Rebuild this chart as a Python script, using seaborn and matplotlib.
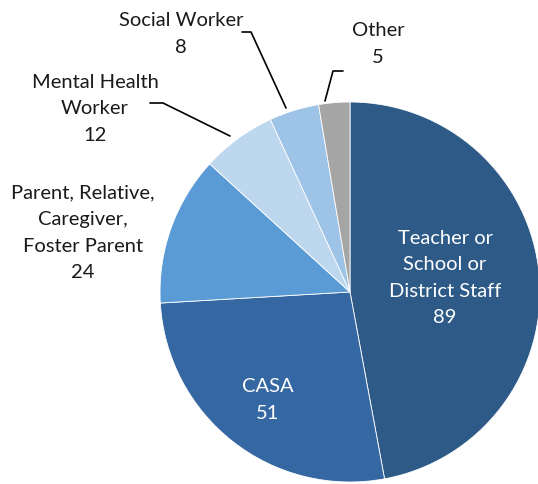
import matplotlib
matplotlib.use("Agg")
import matplotlib.pyplot as plt
import seaborn as sns

sns.set_theme(style="white")
plt.rcParams['font.family'] = ['Lato', 'DejaVu Sans']

categories = ["Teacher or\nSchool or\nDistrict Staff", "CASA",
              "Parent, Relative,\nCaregiver,\nFoster Parent", "Mental Health\nWorker",
              "Social Worker", "Other"]
values = [89, 51, 24, 12, 8, 5]
colors = ["#2E5A88", "#3568A2", "#5B9BD5", "#BDD7EE", "#9DC3E6", "#A5A5A5"]

W, H = 538, 485
CX, CY, R = 350, 293, 190


def px(x, y):
    # pixel position -> data units (pie radius = 1)
    return (x - CX) / R, (CY - y) / R


fig = plt.figure(figsize=(W / 100, H / 100), dpi=100)
ax = fig.add_axes([0, 0, 1, 1])
ax.pie(values, colors=colors, startangle=90, counterclock=False,
       wedgeprops=dict(edgecolor="white", linewidth=0.6))
ax.set_xlim(-CX / R, (W - CX) / R)
ax.set_ylim(-(H - CY) / R, CY / R)
ax.set_aspect("equal")
ax.axis("off")

label_pos = [(445, 278, "white"), (268, 400, "white"), (83, 233, "#1a1a1a"),
             (95, 109, "#1a1a1a"), (181, 34, "#1a1a1a"), (378, 44, "#1a1a1a")]
for cat, val, (x, y, c) in zip(categories, values, label_pos):
    ax.text(*px(x, y), f"{cat}\n{val}", ha="center", va="center",
            fontsize=14.5, color=c, linespacing=1.68)

leaders = [[(150, 104), (163, 104), (230, 137)],
           [(242, 33), (251, 33), (286, 109)],
           [(343, 72), (333, 72), (325, 102)]]
for pts in leaders:
    xs, ys = zip(*[px(a, b) for a, b in pts])
    ax.plot(xs, ys, color="black", linewidth=1.2)

fig.savefig("out.png", dpi=100, facecolor="white")
